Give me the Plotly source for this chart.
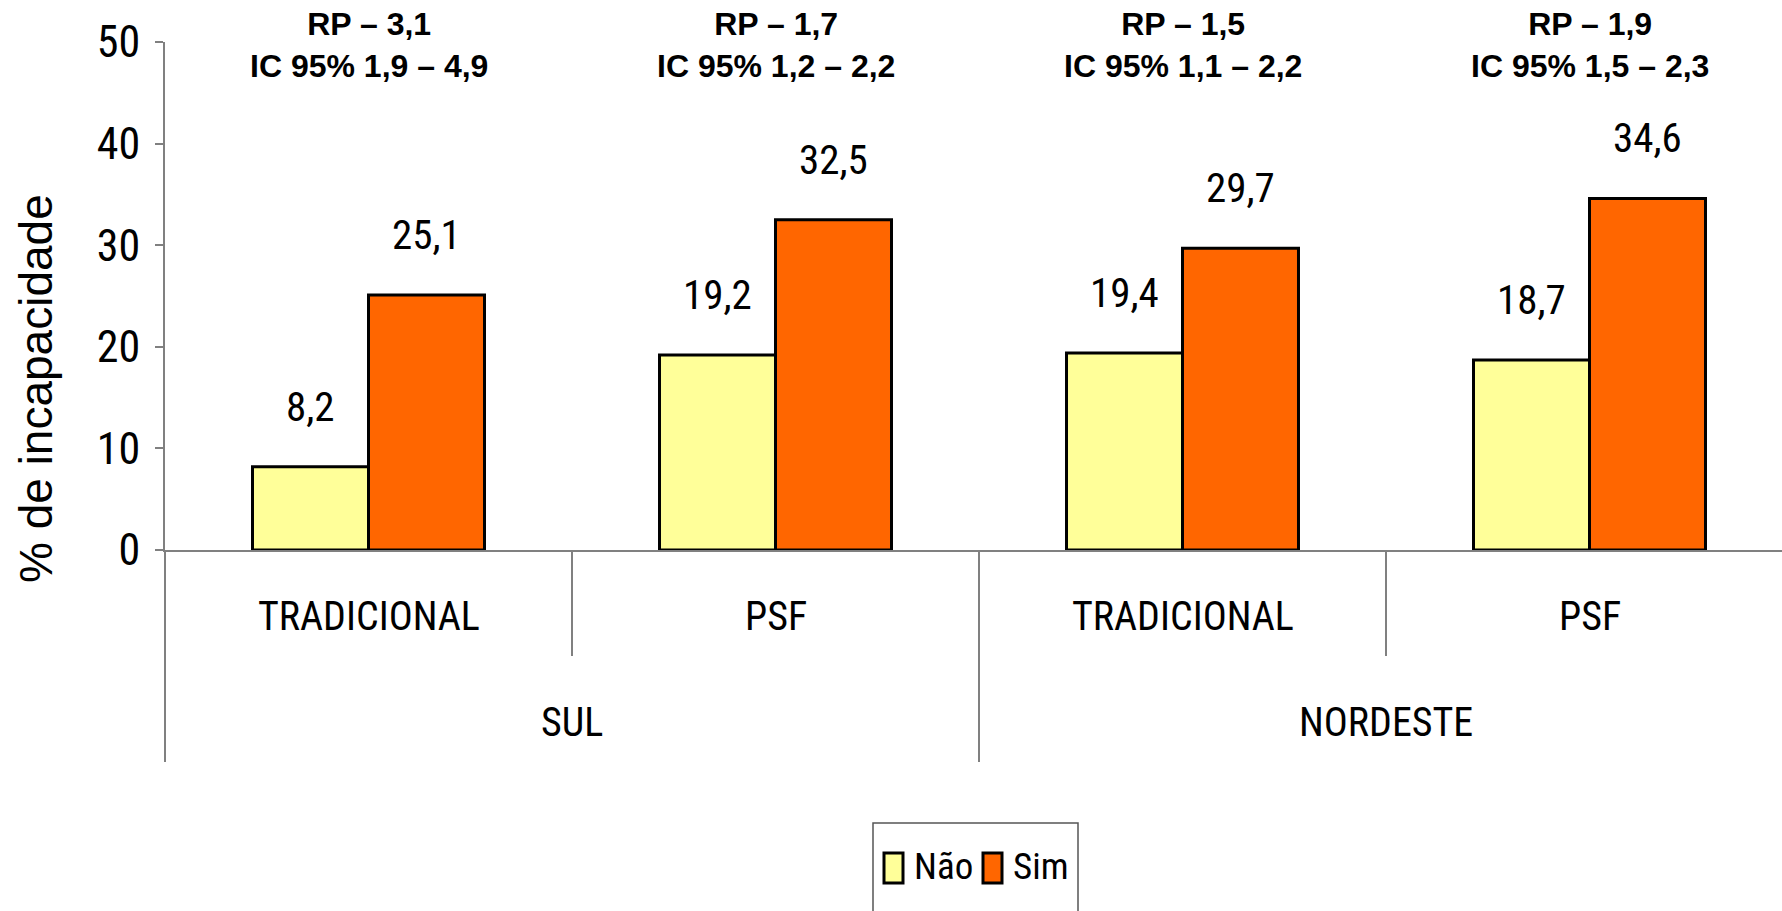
import plotly.graph_objects as go

# Prevalência de incapacidade por modelo de atenção e região
servicos = ["TRADICIONAL", "PSF", "TRADICIONAL", "PSF"]
regioes = ["SUL", "NORDESTE"]
servicos_por_regiao = 2
nao = [8.2, 19.2, 19.4, 18.7]
sim = [25.1, 32.5, 29.7, 34.6]
rp = ["3,1", "1,7", "1,5", "1,9"]
ic95 = [("1,9", "4,9"), ("1,2", "2,2"), ("1,1", "2,2"), ("1,5", "2,3")]
y_ticks = [0, 10, 20, 30, 40, 50]
series_names = ["Não", "Sim"]

# ---- styling ----
NARROW = "Roboto Condensed, DejaVu Sans Condensed, sans-serif"
REGULAR = "Liberation Sans, Arial, Helvetica, sans-serif"
GRAY = "#808080"
COLORS = ["#FFFF99", "#FF6600"]
W, H = 1782, 911
ML, MT, MB, MR = 165, 42, 361, 0
GROUP_PX = 407.0
BARGAP = 0.43

plot_h = H - MT - MB
plot_w = W - ML - MR


def py(px_y):
    """Pixel row -> paper y coordinate."""
    return (H - MB - px_y) / plot_h


def px(px_x):
    """Pixel column -> paper x coordinate."""
    return (px_x - ML) / plot_w


def fmt(v):
    return f"{v:.1f}".replace(".", ",")


x = list(range(len(servicos)))
series = [nao, sim]

fig = go.Figure()
for name, vals, col in zip(series_names, series, COLORS):
    fig.add_trace(go.Bar(x=x, y=vals, name=name, showlegend=False,
                         marker=dict(color=col, line=dict(color="black", width=3))))

bar_w = (1 - BARGAP) / 2
ann = []
for i in x:
    # value labels above bars
    for vals, off in ((nao, -bar_w / 2), (sim, bar_w / 2)):
        ann.append(dict(x=i + off, y=vals[i], xref="x", yref="y", text=fmt(vals[i]),
                        showarrow=False, yshift=60, yanchor="middle",
                        font=dict(family=NARROW, size=41, color="black")))
    # prevalence ratio headers
    ann.append(dict(x=i, y=py(45), xref="x", yref="paper",
                    text=f"<b>RP – {rp[i]}<br>IC 95% {ic95[i][0]} – {ic95[i][1]}</b>",
                    showarrow=False, yanchor="middle",
                    font=dict(family=REGULAR, size=32, color="black")))
    # service labels
    ann.append(dict(x=i, y=py(616), xref="x", yref="paper", text=servicos[i],
                    showarrow=False, yanchor="middle",
                    font=dict(family=NARROW, size=40, color="black")))
# region labels
for j, reg in enumerate(regioes):
    cx = j * servicos_por_regiao + (servicos_por_regiao - 1) / 2
    ann.append(dict(x=cx, y=py(722), xref="x", yref="paper", text=reg,
                    showarrow=False, yanchor="middle",
                    font=dict(family=NARROW, size=40, color="black")))
# axis title
ann.append(dict(x=0, y=py(389), xref="paper", yref="paper", text="% de incapacidade",
                textangle=-90, showarrow=False, xanchor="center", yanchor="middle",
                xshift=-(ML - 36), font=dict(family=REGULAR, size=46, color="black")))

shapes = []
# y axis extended below the plot
shapes.append(dict(type="line", xref="paper", yref="paper", x0=0, x1=0,
                   y0=0, y1=py(762), line=dict(color=GRAY, width=2)))
# category dividers
for k in range(1, len(servicos)):
    long = k % servicos_por_regiao == 0
    shapes.append(dict(type="line", xref="x", yref="paper", x0=k - 0.5, x1=k - 0.5,
                       y0=0, y1=py(762 if long else 656), line=dict(color=GRAY, width=2)))

# legend: frame, swatches and names
shapes.append(dict(type="rect", xref="paper", yref="paper",
                   x0=px(873), x1=px(1078), y0=py(823), y1=py(920),
                   line=dict(color="#555555", width=1.5), fillcolor="rgba(0,0,0,0)"))
swatch_left = [884, 983]
for name, col, sx in zip(series_names, COLORS, swatch_left):
    shapes.append(dict(type="rect", xref="paper", yref="paper",
                       x0=px(sx), x1=px(sx + 19), y0=py(853), y1=py(883),
                       line=dict(color="black", width=3), fillcolor=col))
    ann.append(dict(x=px(sx + 28), y=py(866), xref="paper", yref="paper", text=name,
                    showarrow=False, xanchor="left", yanchor="middle",
                    font=dict(family=NARROW, size=37, color="black")))

fig.update_layout(
    width=W, height=H,
    margin=dict(l=ML, r=MR, t=MT, b=MB),
    paper_bgcolor="white", plot_bgcolor="white",
    barmode="group", bargap=BARGAP, bargroupgap=0,
    annotations=ann, shapes=shapes,
    showlegend=False,
    xaxis=dict(range=[-0.5, -0.5 + plot_w / GROUP_PX], showticklabels=False,
               ticks="", showgrid=False, zeroline=False, showline=True,
               linecolor=GRAY, linewidth=2, fixedrange=True),
    yaxis=dict(range=[0, 50], tickvals=y_ticks, ticks="outside", ticklen=8,
               tickwidth=2, tickcolor=GRAY, showline=True, linecolor=GRAY,
               linewidth=2, showgrid=False, zeroline=False,
               ticklabelstandoff=6,
               tickfont=dict(family=NARROW, size=44, color="black")),
)

fig.write_html("out.html")
